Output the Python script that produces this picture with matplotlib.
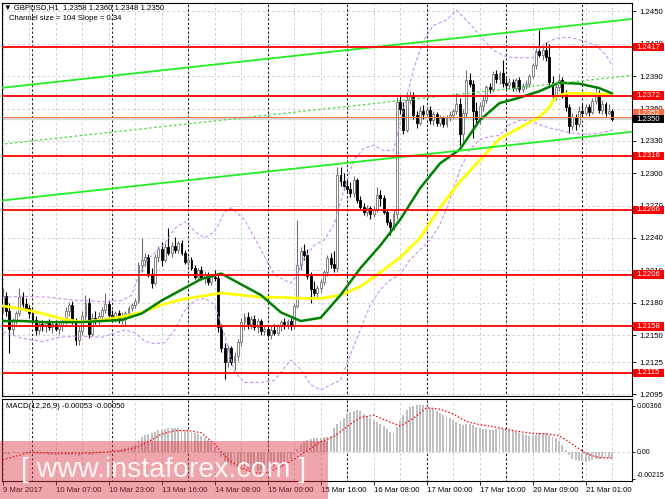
import matplotlib
matplotlib.use('Agg')
import matplotlib.pyplot as plt
from matplotlib.patches import Rectangle

W, H = 665, 499
FONT = ['Liberation Sans', 'DejaVu Sans']
plt.rcParams['font.family'] = FONT

# ---------------- data ----------------
symbol_line = "GBPUSD,H1  1.2358 1.2360 1.2348 1.2350"
channel_line = "Channel size = 104 Slope = 0.34"
macd_line = "MACD(12,26,9) -0.00053 -0.00050"

opens = [1.2176,1.2186,1.2172,1.2156,1.2163,1.2170,1.2185,1.2179,1.2175,1.2170,
         1.2164,1.2155,1.2160,1.2158,1.2161,1.2157,1.2160,1.2156,1.2159,1.2163,
         1.2172,1.2178,1.2163,1.2145,1.2154,1.2168,1.2180,1.2151,1.2166,1.2163,
         1.2168,1.2173,1.2179,1.2169,1.2166,1.2170,1.2164,1.2168,1.2170,1.2175,
         1.2178,1.2182,1.2215,1.2220,1.2222,1.2207,1.2198,1.2222,1.2230,1.2220,
         1.2232,1.2226,1.2233,1.2229,1.2235,1.2226,1.2218,1.2220,1.2212,1.2204,
         1.2210,1.2203,1.2206,1.2199,1.2204,1.2203,1.2157,1.2138,1.2125,1.2138,
         1.2125,1.2131,1.2144,1.2162,1.2167,1.2160,1.2165,1.2157,1.2163,1.2154,
         1.2156,1.2150,1.2155,1.2152,1.2158,1.2162,1.2160,1.2163,1.2158,1.2177,
         1.2215,1.2228,1.2224,1.2205,1.2193,1.2189,1.2194,1.2199,1.2208,1.2221,
         1.2216,1.2212,1.2298,1.2293,1.2288,1.2285,1.2282,1.2294,1.2275,1.2269,
         1.2264,1.2268,1.2262,1.2267,1.2280,1.2277,1.2264,1.2255,1.2250,1.2262,
         1.2366,1.2360,1.2340,1.2368,1.2372,1.2354,1.2347,1.2358,1.2355,1.2359,
         1.2349,1.2355,1.2347,1.2351,1.2346,1.2352,1.2354,1.2358,1.2364,1.2336,
         1.2356,1.2386,1.2383,1.2358,1.2350,1.2362,1.2368,1.2380,1.2378,1.2392,
         1.2387,1.2393,1.2384,1.2382,1.2385,1.2379,1.2386,1.2378,1.2381,1.2383,
         1.2390,1.2400,1.2413,1.2410,1.2414,1.2408,1.2385,1.2372,1.2380,1.2386,
         1.2373,1.2361,1.2344,1.2352,1.2346,1.2358,1.2356,1.2361,1.2357,1.2367,
         1.2374,1.2359,1.2364,1.2356,1.2358]
highs = [1.2194,1.2190,1.2180,1.2166,1.2172,1.2194,1.2190,1.2184,1.2178,1.2174,
         1.2168,1.2163,1.2164,1.2163,1.2165,1.2163,1.2164,1.2162,1.2166,1.2176,
         1.2181,1.2182,1.2166,1.2158,1.2172,1.2187,1.2184,1.2170,1.2172,1.2171,
         1.2176,1.2189,1.2182,1.2173,1.2172,1.2173,1.2171,1.2172,1.2177,1.2180,
         1.2184,1.2218,1.2240,1.2226,1.2225,1.2212,1.2225,1.2233,1.2236,1.2235,
         1.2249,1.2236,1.2241,1.2237,1.2238,1.2229,1.2223,1.2222,1.2215,1.2212,
         1.2214,1.2209,1.2208,1.2207,1.2210,1.2206,1.2160,1.2143,1.2141,1.2140,
         1.2134,1.2146,1.2166,1.2170,1.2171,1.2168,1.2169,1.2166,1.2165,1.2159,
         1.2158,1.2158,1.2160,1.2160,1.2164,1.2166,1.2165,1.2166,1.2180,1.2257,
         1.2232,1.2234,1.2230,1.2208,1.2200,1.2196,1.2202,1.2210,1.2224,1.2226,
         1.2228,1.2306,1.2306,1.2300,1.2296,1.2292,1.2297,1.2296,1.2279,1.2272,
         1.2271,1.2270,1.2270,1.2287,1.2284,1.2280,1.2266,1.2258,1.2266,1.2371,
         1.2372,1.2366,1.2375,1.2376,1.2375,1.2358,1.2362,1.2363,1.2362,1.2362,
         1.2358,1.2357,1.2354,1.2353,1.2354,1.2358,1.2360,1.2374,1.2370,1.2360,
         1.2396,1.2393,1.2386,1.2366,1.2366,1.2372,1.2382,1.2384,1.2395,1.2396,
         1.2395,1.2405,1.2388,1.2388,1.2387,1.2388,1.2389,1.2384,1.2386,1.2392,
         1.2402,1.2416,1.2433,1.2418,1.2422,1.2420,1.2390,1.2384,1.2392,1.2389,
         1.2377,1.2364,1.2356,1.2355,1.2362,1.2364,1.2364,1.2364,1.2370,1.2380,
         1.2377,1.2368,1.2366,1.2364,1.2360]
lows = [1.2170,1.2168,1.2133,1.2150,1.2160,1.2168,1.2176,1.2172,1.2166,1.2160,
        1.2150,1.2151,1.2154,1.2153,1.2155,1.2152,1.2154,1.2151,1.2154,1.2160,
        1.2168,1.2160,1.2141,1.2141,1.2150,1.2164,1.2147,1.2149,1.2160,1.2159,
        1.2164,1.2170,1.2166,1.2162,1.2162,1.2161,1.2160,1.2158,1.2167,1.2172,
        1.2175,1.2180,1.2208,1.2214,1.2204,1.2194,1.2196,1.2218,1.2214,1.2218,
        1.2224,1.2222,1.2226,1.2226,1.2224,1.2216,1.2214,1.2210,1.2202,1.2200,
        1.2201,1.2197,1.2196,1.2196,1.2200,1.2153,1.2134,1.2109,1.2120,1.2122,
        1.2118,1.2126,1.2140,1.2155,1.2156,1.2156,1.2155,1.2152,1.2150,1.2150,
        1.2148,1.2146,1.2150,1.2150,1.2154,1.2156,1.2156,1.2155,1.2156,1.2175,
        1.2210,1.2220,1.2202,1.2180,1.2186,1.2184,1.2190,1.2196,1.2205,1.2212,
        1.2208,1.2208,1.2288,1.2284,1.2282,1.2278,1.2278,1.2272,1.2266,1.2261,
        1.2260,1.2258,1.2259,1.2264,1.2270,1.2262,1.2252,1.2243,1.2247,1.2258,
        1.2355,1.2336,1.2338,1.2364,1.2350,1.2342,1.2345,1.2350,1.2352,1.2346,
        1.2345,1.2344,1.2344,1.2343,1.2343,1.2348,1.2350,1.2355,1.2326,1.2328,
        1.2352,1.2380,1.2333,1.2345,1.2346,1.2358,1.2365,1.2374,1.2375,1.2384,
        1.2383,1.2380,1.2378,1.2378,1.2376,1.2376,1.2375,1.2375,1.2378,1.2380,
        1.2388,1.2397,1.2408,1.2405,1.2404,1.2382,1.2368,1.2368,1.2376,1.2370,
        1.2358,1.2337,1.2340,1.2340,1.2343,1.2352,1.2354,1.2353,1.2355,1.2364,
        1.2356,1.2355,1.2353,1.2354,1.2348]
closes = [1.2186,1.2172,1.2156,1.2163,1.2170,1.2185,1.2179,1.2175,1.2170,1.2164,
          1.2155,1.2160,1.2158,1.2161,1.2157,1.2160,1.2156,1.2159,1.2163,1.2172,
          1.2178,1.2163,1.2145,1.2154,1.2168,1.2180,1.2151,1.2166,1.2163,1.2168,
          1.2173,1.2179,1.2169,1.2166,1.2170,1.2164,1.2168,1.2170,1.2175,1.2178,
          1.2182,1.2215,1.2220,1.2222,1.2207,1.2198,1.2222,1.2230,1.2220,1.2232,
          1.2226,1.2233,1.2229,1.2235,1.2226,1.2218,1.2220,1.2212,1.2204,1.2210,
          1.2203,1.2206,1.2199,1.2204,1.2203,1.2157,1.2138,1.2125,1.2138,1.2125,
          1.2131,1.2144,1.2162,1.2167,1.2160,1.2165,1.2157,1.2163,1.2154,1.2156,
          1.2150,1.2155,1.2152,1.2158,1.2162,1.2160,1.2163,1.2158,1.2177,1.2215,
          1.2228,1.2224,1.2205,1.2193,1.2189,1.2194,1.2199,1.2208,1.2221,1.2216,
          1.2212,1.2298,1.2293,1.2288,1.2285,1.2282,1.2294,1.2275,1.2269,1.2264,
          1.2268,1.2262,1.2267,1.2280,1.2277,1.2264,1.2255,1.2250,1.2262,1.2366,
          1.2360,1.2340,1.2368,1.2372,1.2354,1.2347,1.2358,1.2355,1.2359,1.2349,
          1.2355,1.2347,1.2351,1.2346,1.2352,1.2354,1.2358,1.2364,1.2336,1.2356,
          1.2386,1.2383,1.2358,1.2350,1.2362,1.2368,1.2380,1.2378,1.2392,1.2387,
          1.2393,1.2384,1.2382,1.2385,1.2379,1.2386,1.2378,1.2381,1.2383,1.2390,
          1.2400,1.2413,1.2410,1.2414,1.2408,1.2385,1.2372,1.2380,1.2386,1.2373,
          1.2361,1.2344,1.2352,1.2346,1.2358,1.2356,1.2361,1.2357,1.2367,1.2374,
          1.2359,1.2364,1.2356,1.2358,1.2350]

green_ma_idx = [0,6,12,18,24,30,36,42,48,54,60,66,72,78,84,90,96,102,108,114,
                120,126,132,138,144,150,156,162,168,174,180,184]
green_ma_val = [1.2163,1.2163,1.2162,1.2162,1.2162,1.2163,1.2164,1.2170,1.2182,1.2192,
                1.2202,1.2207,1.2197,1.2187,1.2171,1.2163,1.2166,1.2187,1.2212,1.2233,
                1.2257,1.2286,1.2309,1.2322,1.2349,1.2365,1.2370,1.2376,1.2384,1.2383,
                1.2379,1.2374]
yellow_ma_idx = [0,6,12,18,24,30,36,42,48,54,60,66,72,78,84,90,96,102,108,114,
                 120,126,132,138,144,150,156,162,165,167,170,176,184]
yellow_ma_val = [1.2177,1.2174,1.2170,1.2165,1.2162,1.2164,1.2167,1.2171,1.2178,1.2183,
                 1.2186,1.2189,1.2187,1.2185,1.2185,1.2184,1.2184,1.2187,1.2195,1.2208,
                 1.2222,1.2240,1.2268,1.2292,1.2312,1.2332,1.2342,1.2352,1.2361,1.2371,
                 1.2374,1.2374,1.2373]

bb_up_idx = [0,6,14,23,30,36,39,41,44,49,52,55,58,61,64,67,69,73,78,82,
             87,89,91,94,97,100,103,106,109,112,115,118,121,124,127,130,134,137,140,144,
             148,152,156,160,163,167,171,175,179,182,184]
bb_up_val = [1.2185,1.2186,1.2185,1.2182,1.2181,1.2182,1.2187,1.2205,1.2221,1.2235,
             1.2249,1.2255,1.2246,1.2240,1.2246,1.2264,1.2268,1.2257,1.2229,1.2206,
             1.2198,1.2206,1.2221,1.2233,1.2238,1.2252,1.2284,1.2312,1.2323,1.2326,
             1.2321,1.2321,1.2359,1.2396,1.2423,1.2437,1.2442,1.2451,1.2442,1.2428,
             1.2414,1.2408,1.2407,1.2407,1.2419,1.2425,1.2426,1.2423,1.2419,1.2410,
             1.2400]
bb_lo_idx = [0,6,12,17,23,30,34,37,40,43,46,49,52,55,58,61,64,67,70,73,
             78,82,87,90,93,96,99,102,105,108,111,114,117,120,123,126,129,132,135,138,
             141,144,147,150,153,156,159,162,165,168,172,176,180,184]
bb_lo_val = [1.2153,1.2147,1.2144,1.2148,1.2149,1.2148,1.2152,1.2155,1.2152,1.2144,
             1.2142,1.2143,1.2155,1.2173,1.2182,1.2184,1.2178,1.2150,1.2116,1.2106,
             1.2106,1.2108,1.2127,1.2118,1.2104,1.2099,1.2104,1.2108,1.2132,1.2155,
             1.2178,1.2192,1.2201,1.2206,1.2220,1.2229,1.2238,1.2252,1.2275,1.2303,
             1.2322,1.2331,1.2334,1.2335,1.2345,1.2349,1.2349,1.2345,1.2342,1.2340,
             1.2337,1.2336,1.2337,1.2340]

channel_idx = [-0.8, 190.0]
channel_upper = [1.2379, 1.2443]
channel_lower = [1.22745, 1.23384]

levels = [1.2417, 1.2372, 1.2316, 1.2266, 1.2206, 1.2158, 1.2115]
level_labels = ['1.2417', '1.2372', '1.2316', '1.2266', '1.2206', '1.2158', '1.2115']
bid_price = 1.2350
bid_label = '1.2350'
ask_price = 1.2352
ask_label = '1.2352'

price_ticks = [1.2450, 1.2420, 1.2390, 1.2360, 1.2330, 1.2300, 1.2270, 1.2240,
               1.2210, 1.2180, 1.2150, 1.2125, 1.2095]
price_tick_labels = ['1.2450', '1.2420', '1.2390', '1.2360', '1.2330', '1.2300', '1.2270',
                     '1.2240', '1.2210', '1.2180', '1.2150', '1.2125', '1.2095']

macd_hist = [-0.00020,-0.00018,-0.00016,-0.00014,-0.00012,-0.00010,-0.00010,-0.00010,-0.00010,
             -0.00012,-0.00015,-0.00018,-0.00020,-0.00022,-0.00024,-0.00025,-0.00026,-0.00027,-0.00028,-0.00030,
             -0.00028,-0.00030,-0.00034,-0.00032,-0.00028,-0.00022,-0.00026,-0.00024,-0.00022,-0.00020,-0.00014,-0.00006,
             0.00002,0.00006,0.00010,0.00014,0.00020,0.00026,0.00034,0.00044,0.00056,
             0.00090,0.00120,0.00136,0.00142,0.00148,0.00160,0.00170,0.00176,0.00182,0.00186,0.00190,
             0.00188,0.00186,0.00180,0.00174,0.00166,0.00158,0.00148,0.00138,0.00126,0.00112,0.00096,0.00070,0.00040,
             -0.00010,-0.00040,-0.00070,-0.00090,-0.00106,-0.00118,-0.00128,-0.00134,-0.00140,-0.00144,-0.00148,-0.00150,-0.00150,-0.00148,-0.00144,
             -0.00140,-0.00136,-0.00132,-0.00126,-0.00118,-0.00108,-0.00090,-0.00060,-0.00030,0.00020,
             0.00060,0.00080,0.00096,0.00104,0.00106,0.00108,0.00110,0.00114,0.00118,0.00124,
             0.00190,0.00220,0.00246,0.00270,0.00296,0.00318,0.00326,0.00328,0.00320,0.00300,
             0.00284,0.00270,0.00254,0.00238,0.00224,0.00204,0.00180,0.00160,0.00146,
             0.00200,0.00244,0.00290,0.00330,0.00354,0.00366,0.00370,0.00370,0.00368,0.00360,
             0.00350,0.00336,0.00322,0.00306,0.00292,0.00278,0.00264,0.00250,0.00238,0.00224,0.00212,
             0.00224,0.00222,0.00212,0.00198,0.00190,0.00184,0.00178,0.00172,0.00176,0.00182,0.00186,
             0.00184,0.00178,0.00170,0.00162,0.00156,0.00150,0.00142,0.00134,0.00126,0.00124,0.00136,
             0.00148,0.00152,0.00150,0.00136,0.00120,0.00106,0.00084,0.00050,0.00016,-0.00030,-0.00056,
             -0.00066,-0.00072,-0.00076,-0.00080,-0.00076,-0.00066,-0.00058,-0.00056,-0.00054,-0.00052,-0.00050,-0.00053]
signal_idx = [0,4,8,12,16,20,24,28,32,36,40,44,48,52,56,60,64,68,72,76,80,84,88,92,96,
              100,104,108,112,116,120,124,128,132,136,140,144,148,152,156,160,164,168,172,176,180,184]
signal_val = [-0.00066,-0.00035,-0.00005,-0.00008,-0.00010,-0.00012,-0.00010,-0.00006,-0.00002,0.00008,
              0.00030,0.00080,0.00140,0.00168,0.00168,0.00150,0.00060,-0.00060,-0.00130,-0.00168,
              -0.00164,-0.00120,-0.00060,0.00010,0.00080,0.00120,0.00200,0.00272,0.00290,0.00246,
              0.00205,0.00265,0.00350,0.00338,0.00300,0.00240,0.00215,0.00200,0.00178,0.00160,
              0.00146,0.00142,0.00128,0.00060,-0.00013,-0.00048,-0.00050]
macd_ticks = [0.00366, 0.0, -0.00215]
macd_tick_labels = ['0.00366', '0.00', '-0.00215']

time_labels = ['9 Mar 2017', '10 Mar 07:00', '10 Mar 23:00', '13 Mar 16:00', '14 Mar 08:00',
               '15 Mar 00:00', '15 Mar 16:00', '16 Mar 08:00', '17 Mar 00:00', '17 Mar 16:00',
               '20 Mar 09:00', '21 Mar 01:00']
bars_per_label = 16
bars_per_grid = 8
day_start_bars = [9, 33, 56, 80, 104, 128, 152, 175]

watermark = '[ www.instaforex.com ]'

# ---------------- figure ----------------
fig = plt.figure(figsize=(W / 100, H / 100), dpi=100)
fig.patch.set_facecolor('white')

def fx(px):
    return px / W

def fy(py):
    return 1 - py / H

ax = fig.add_axes([fx(2), fy(396), fx(630), 393 / H])
axm = fig.add_axes([fx(2), fy(481), fx(630), 82 / H])

n = len(closes)
idx = list(range(n))
XMIN, XMAX = -0.2, 190.0
ax.set_xlim(XMIN, XMAX)
axm.set_xlim(XMIN, XMAX)
ax.set_ylim(1.20935, 1.24578)
axm.set_ylim(-0.00233, 0.00419)

GRID = '#c8c8c8'
FS = 5.6

for a in (ax, axm):
    for s in a.spines.values():
        s.set_color('black')
        s.set_linewidth(0.8)
    grid_x = list(range(0, n, bars_per_grid))
    a.vlines(grid_x, -1, 2, colors=GRID, linestyles=(0, (3, 3)), linewidth=0.6, zorder=0.5)
    a.vlines(day_start_bars, -1, 2, colors='#202020', linestyles=(0, (2, 2)), linewidth=0.8, zorder=0.6)

ax.hlines(price_ticks, XMIN, XMAX, colors=GRID, linestyles=(0, (3, 3)), linewidth=0.6, zorder=0.5)
axm.hlines([0.0], XMIN, XMAX, colors=GRID, linestyles=(0, (3, 3)), linewidth=0.6, zorder=0.5)

# candles
bull = [c >= o for o, c in zip(opens, closes)]
wick_cols = ['#707070' if b else 'black' for b in bull]
ax.vlines(idx, lows, highs, colors=wick_cols, linewidth=0.8, zorder=2)
bodies_bottom = [min(o, c) for o, c in zip(opens, closes)]
bodies_h = [max(abs(c - o), 0.00003) for o, c in zip(opens, closes)]
face = ['white' if b else 'black' for b in bull]
edge = ['#707070' if b else 'black' for b in bull]
ax.bar(idx, bodies_h, bottom=bodies_bottom, width=0.58, color=face, edgecolor=edge,
       linewidth=0.6, zorder=2.1)

# Bollinger bands
BB = '#c890f5'
ax.plot(bb_up_idx, bb_up_val, color=BB, lw=0.8, ls=(0, (3, 2)), zorder=3)
ax.plot(bb_lo_idx, bb_lo_val, color=BB, lw=0.8, ls=(0, (3, 2)), zorder=3)

# moving averages
ax.plot(yellow_ma_idx, yellow_ma_val, color='#ffff00', lw=2.0, zorder=4, solid_capstyle='round')
ax.plot(green_ma_idx, green_ma_val, color='#008000', lw=1.8, zorder=4.1, solid_capstyle='round')

# channel
ax.plot(channel_idx, channel_upper, color='#22ee22', lw=1.3, zorder=5)
ax.plot(channel_idx, channel_lower, color='#22ee22', lw=1.3, zorder=5)
channel_mid = [(u + l) / 2 for u, l in zip(channel_upper, channel_lower)]
ax.plot(channel_idx, channel_mid, color='#44dd44', lw=0.9, ls=(0, (2, 2)), zorder=5)

# levels
ax.hlines(levels, XMIN, XMAX, colors='#ff0000', linewidth=1.3, zorder=5.5)
ax.hlines([bid_price], XMIN, XMAX, colors='#d8d8d8', linewidth=1.6, zorder=1)
ax.hlines([ask_price], XMIN, XMAX, colors='#ff7040', linewidth=0.7, zorder=5.4)

# axes ticks
ax.set_xticks([])
ax.yaxis.tick_right()
ax.set_yticks(price_ticks)
ax.set_yticklabels(price_tick_labels, fontsize=FS)
ax.tick_params(axis='y', length=3, width=0.6, pad=2, direction='out', colors='black')

axm.bar(idx, macd_hist, width=0.58, color='#c0c0c0', zorder=2)
axm.plot(signal_idx, signal_val, color='#ff0000', lw=0.9, ls=(0, (1.2, 1.6)), zorder=3)
axm.yaxis.tick_right()
axm.set_yticks(macd_ticks)
axm.set_yticklabels(macd_tick_labels, fontsize=5.0)
axm.tick_params(axis='y', length=2.5, width=0.6, pad=1.2, direction='out')
mlabels = axm.get_yticklabels()
mlabels[-1].set_verticalalignment('bottom')
label_pos = [k * bars_per_label for k in range(len(time_labels))]
axm.set_xticks(label_pos)
axm.set_xticklabels(time_labels, fontsize=FS)
for t in axm.get_xticklabels():
    t.set_horizontalalignment('left')
axm.tick_params(axis='x', length=3, width=0.6, pad=1.5, direction='out')

# right-side boxed labels
def fig_y_of(axis, val):
    return axis.transData.transform((0, val))[1] / fig.bbox.height

def boxed(val, text, fc, z):
    yf = fig_y_of(ax, val)
    fig.add_artist(Rectangle((fx(633), yf - 4.2 / H), fx(31), 8.4 / H, transform=fig.transFigure,
                             facecolor=fc, edgecolor='none', zorder=z))
    fig.text(fx(636), yf, text, color='white', fontsize=FS, va='center', ha='left', zorder=z + 0.1)

for lv, lb in zip(levels, level_labels):
    boxed(lv, lb, '#ff0000', 2)
boxed(ask_price + 0.00035, ask_label, '#ff6a40', 2.2)
boxed(bid_price, bid_label, 'black', 2.4)

# titles
fig.text(fx(4), fy(7.5), '\u25bc ' + symbol_line, fontsize=FS, va='center', ha='left',
         family=FONT, zorder=3)
fig.text(fx(9), fy(19), channel_line, fontsize=FS, va='center', ha='left', zorder=3)
fig.text(fx(6), fy(407), macd_line, fontsize=FS, va='center', ha='left', zorder=3)

# watermark
fig.add_artist(Rectangle((0, 0), fx(328), 58 / H, transform=fig.transFigure,
                         facecolor=(0.86, 0.22, 0.27), alpha=0.45, edgecolor='none', zorder=5))
fig.text(fx(164), fy(477), watermark, fontsize=20.5, color='white', alpha=0.9,
         ha='center', va='baseline', zorder=6)

fig.savefig('out.png', dpi=100, facecolor='white')
